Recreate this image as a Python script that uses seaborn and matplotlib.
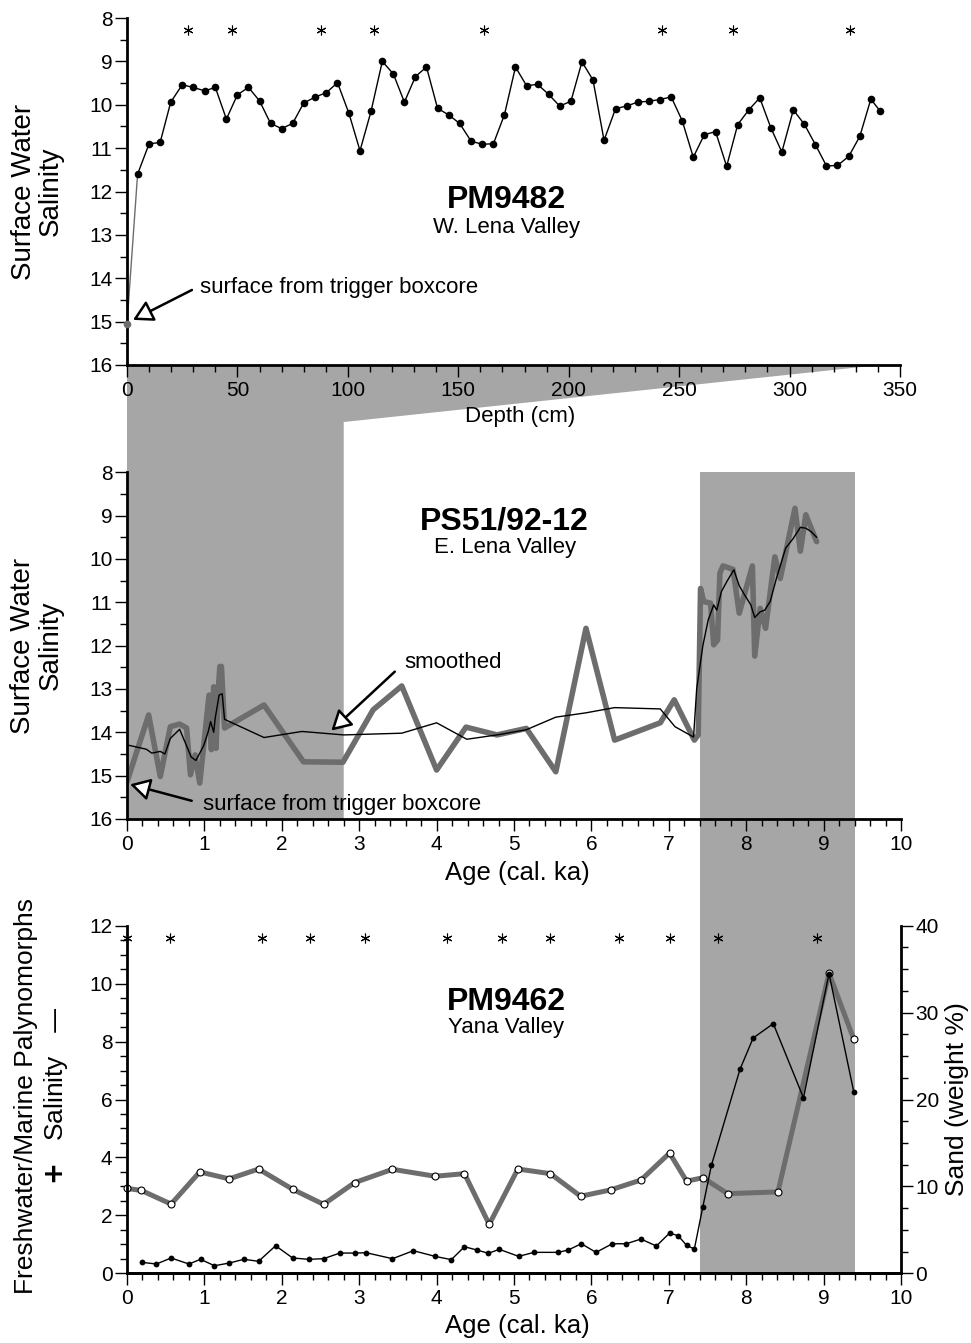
import numpy as np
import pandas as pd
import matplotlib
matplotlib.use("Agg")
import matplotlib.pyplot as plt
import seaborn as sns
from matplotlib.patches import Polygon, Rectangle
from matplotlib.ticker import MultipleLocator
from matplotlib.transforms import blended_transform_factory

# ---------------- data ----------------
# PM9482 (W. Lena Valley) surface water salinity vs depth
pm9482_depth = [4.8, 10, 15, 19.8, 25, 30, 35.2, 40, 45, 50, 55, 60, 65, 70, 75, 80, 85.3, 90.3,
                95.3, 100.5, 105.5, 110.5, 115.6, 120.6, 125.6, 130.6, 135.6, 140.6, 145.8, 150.6,
                155.8, 160.8, 165.9, 170.9, 175.9, 180.9, 185.9, 190.9, 195.9, 201, 206, 211, 216,
                221.2, 226.2, 231.2, 236.2, 241.2, 246.4, 251.4, 256.4, 261.4, 266.5, 271.5, 276.5,
                281.5, 286.5, 291.5, 296.5, 301.7, 306.7, 311.7, 316.7, 321.7, 326.8, 331.8, 336.8, 340.9]
pm9482_sal = [11.6, 10.9, 10.87, 9.94, 9.54, 9.6, 9.68, 9.6, 10.33, 9.77, 9.6, 9.91, 10.43, 10.55,
              10.43, 9.96, 9.82, 9.72, 9.49, 10.2, 11.06, 10.15, 9.0, 9.29, 9.94, 9.35, 9.13, 10.08,
              10.24, 10.43, 10.84, 10.91, 10.9, 10.23, 9.13, 9.56, 9.53, 9.76, 10.03, 9.92, 9.01,
              9.43, 10.82, 10.09, 10.03, 9.94, 9.92, 9.88, 9.82, 10.37, 11.21, 10.69, 10.62, 11.42,
              10.46, 10.12, 9.84, 10.53, 11.09, 10.12, 10.45, 10.92, 11.41, 11.40, 11.19, 10.73,
              9.87, 10.14]
pm9482_surface_depth = [0.0]
pm9482_surface_sal = [15.05]
pm9482_dated_depth = [27.7, 47.6, 88, 111.7, 161.8, 242.4, 274.5, 327.4]

# PS51/92-12 (E. Lena Valley) salinity vs age
ps51_age = [0.00, 0.28, 0.43, 0.56, 0.68, 0.77, 0.82, 0.88, 0.94, 1.06, 1.09, 1.12, 1.15, 1.18,
            1.20, 1.22, 1.26, 1.77, 2.28, 2.79, 3.18, 3.55, 4.00, 4.38, 4.78, 5.16, 5.54, 5.93,
            6.30, 6.89, 7.07, 7.33, 7.38, 7.41, 7.45, 7.54, 7.58, 7.63, 7.66, 7.70, 7.83, 7.91,
            8.08, 8.11, 8.18, 8.25, 8.37, 8.44, 8.63, 8.70, 8.77, 8.91]
ps51_sal = [15.14, 13.60, 15.02, 13.87, 13.81, 13.90, 14.98, 14.52, 15.17, 13.14, 14.40, 12.95,
            14.37, 13.00, 12.48, 12.48, 13.90, 13.37, 14.68, 14.69, 13.48, 12.93, 14.87, 13.88,
            14.06, 13.91, 14.91, 11.60, 14.18, 13.78, 13.25, 14.18, 14.06, 10.68, 10.98, 11.02,
            11.98, 11.87, 10.33, 10.16, 10.24, 11.25, 10.16, 12.24, 11.14, 11.60, 9.95, 10.45,
            8.83, 9.82, 8.98, 9.60]
ps51_smooth_age = [0.00, 0.25, 0.32, 0.43, 0.49, 0.56, 0.68, 0.83, 0.89, 0.99, 1.05, 1.08, 1.12,
                   1.14, 1.19, 1.23, 1.26, 1.77, 2.26, 2.80, 3.55, 4.00, 4.39, 4.78, 5.16, 5.54,
                   5.93, 6.30, 6.89, 7.08, 7.32, 7.36, 7.44, 7.51, 7.58, 7.62, 7.68, 7.75, 7.84,
                   7.91, 7.98, 8.06, 8.11, 8.18, 8.24, 8.31, 8.39, 8.51, 8.61, 8.70, 8.77, 8.84, 8.91]
ps51_smooth_sal = [14.29, 14.39, 14.48, 14.44, 14.50, 14.14, 13.93, 14.57, 14.65, 14.31, 13.98,
                   13.75, 14.00, 13.67, 13.14, 13.11, 13.70, 14.12, 13.98, 14.06, 14.02, 13.78,
                   14.16, 14.06, 13.94, 13.65, 13.55, 13.43, 13.46, 13.87, 14.11, 13.00, 12.00,
                   11.40, 11.06, 11.18, 10.75, 10.52, 10.25, 10.62, 10.83, 11.06, 11.35, 11.22,
                   11.18, 10.98, 10.45, 9.75, 9.52, 9.27, 9.29, 9.37, 9.50]

# PM9462 (Yana Valley)
pm9462_age = [0, 0.185, 0.57, 0.94, 1.32, 1.70, 2.14, 2.54, 2.94, 3.43, 3.98, 4.36, 4.68, 5.05,
              5.47, 5.86, 6.25, 6.64, 7.01, 7.23, 7.44, 7.76, 8.41, 9.07, 9.39]
pm9462_ratio = [2.93, 2.86, 2.39, 3.50, 3.26, 3.60, 2.90, 2.38, 3.13, 3.59, 3.35, 3.44, 1.69, 3.60,
                3.44, 2.66, 2.88, 3.22, 4.15, 3.18, 3.30, 2.75, 2.81, 10.36, 8.08]
sand_age = [0.19, 0.38, 0.57, 0.80, 0.95, 1.13, 1.32, 1.51, 1.70, 1.92, 2.14, 2.35, 2.54, 2.75,
            2.94, 3.09, 3.43, 3.70, 3.98, 4.19, 4.36, 4.52, 4.67, 4.81, 5.06, 5.26, 5.57, 5.70,
            5.87, 6.06, 6.27, 6.45, 6.64, 6.84, 7.01, 7.12, 7.23, 7.33, 7.44, 7.55, 7.92, 8.09,
            8.35, 8.74, 9.07, 9.39]
sand_pct = [1.26, 1.07, 1.76, 1.07, 1.61, 0.87, 1.18, 1.61, 1.38, 3.17, 1.76, 1.61, 1.68, 2.33,
            2.33, 2.37, 1.68, 2.60, 1.95, 1.57, 3.06, 2.68, 2.30, 2.76, 1.95, 2.41, 2.41, 2.68,
            3.40, 2.41, 3.40, 3.40, 3.94, 3.14, 4.63, 4.33, 3.22, 2.79, 7.66, 12.41, 23.48, 27.08,
            28.73, 20.19, 34.48, 20.87]
pm9462_dated_age = [0, 0.55, 1.74, 2.37, 3.08, 4.14, 4.85, 5.47, 6.36, 7.02, 7.64, 8.92]

# shaded intervals
band1_depth = (0, 341)     # PM9482 core length
band1_age = (0, 2.8)       # corresponding age
band2_age = (7.4, 9.4)

# ---------------- style ----------------
sns.set_theme(style="ticks", rc={
    "axes.edgecolor": "black", "xtick.color": "black", "ytick.color": "black",
    "text.color": "black", "axes.labelcolor": "black"})
plt.rcParams["font.family"] = ["Liberation Sans", "DejaVu Sans"]

SHADE = "#a6a6a6"
GRAY = "#6d6d6d"
W, H = 971, 1343
fig = plt.figure(figsize=(W / 100, H / 100), dpi=100)


def px_axes(l, t, r, b):
    return fig.add_axes([l / W, 1 - b / H, (r - l) / W, (b - t) / H])


ax1 = px_axes(127, 18, 900, 365)
ax2 = px_axes(127, 472.3, 901, 819)
ax3 = px_axes(127, 925.7, 901, 1273.3)


def style(ax, right=False):
    ax.patch.set_visible(False)
    for s in ["top", "right", "left", "bottom"]:
        ax.spines[s].set_visible(False)
    show = ["right", "bottom"] if right else ["left", "bottom"]
    for s in show:
        ax.spines[s].set_visible(True)
        ax.spines[s].set_linewidth(2.0)
        ax.spines[s].set_color("black")
    ax.tick_params(which="major", length=8.5, width=1.0, labelsize=15, direction="out", pad=2)
    ax.tick_params(which="minor", length=5, width=1.0, direction="out")


for a in (ax1, ax2, ax3):
    style(a)

ast_kw = dict(ls="none", marker=(6, 2, 0), ms=7, mew=0.8, color="black", clip_on=False)

# ---- top panel ----
ax1.set_xlim(0, 350)
ax1.set_ylim(16, 8)
ax1.xaxis.set_major_locator(MultipleLocator(50))
ax1.xaxis.set_minor_locator(MultipleLocator(10))
ax1.yaxis.set_major_locator(MultipleLocator(1))
ax1.yaxis.set_minor_locator(MultipleLocator(0.5))
ax1.tick_params(axis="x", pad=3)

ax1.plot([pm9482_surface_depth[0], pm9482_depth[0]], [pm9482_surface_sal[0], pm9482_sal[0]],
         color=GRAY, lw=1.0, clip_on=False)
sns.lineplot(x=pm9482_depth, y=pm9482_sal, ax=ax1, color="black", lw=1.0, marker="o",
             markersize=5.5, markeredgewidth=0, estimator=None, sort=False, clip_on=False)
ax1.plot(pm9482_surface_depth, pm9482_surface_sal, ls="none", marker="o", ms=5.5, mew=0,
         color=GRAY, clip_on=False, zorder=5)
ax1.plot(pm9482_dated_depth, [8.28] * len(pm9482_dated_depth), **ast_kw)

ax1.text(171.8, 12.38, "PM9482", ha="center", va="baseline", fontsize=23, fontweight="bold")
ax1.text(171.8, 12.95, "W. Lena Valley", ha="center", va="baseline", fontsize=16)
ax1.text(33.2, 14.22, "surface from trigger boxcore", ha="left", va="center", fontsize=16)
arrow_kw = dict(arrowstyle="-|>,head_length=0.8,head_width=0.45", fc="white", ec="black",
                lw=1.8, mutation_scale=15, shrinkA=0, shrinkB=0)
ax1.annotate("", xy=(2.7, 14.96), xytext=(29.4, 14.27), arrowprops=arrow_kw)

ax1.set_xlabel("Depth (cm)", fontsize=16, va="center")
ax1.xaxis.set_label_coords(0.508, -0.147)
ax1.set_ylabel("Surface Water\nSalinity", fontsize=20, va="center", ha="center", linespacing=1.05)
ax1.yaxis.set_label_coords(-0.1164, 0.5)

# ---- middle panel ----
ax2.set_xlim(0, 10)
ax2.set_ylim(16, 8)
ax2.xaxis.set_major_locator(MultipleLocator(1))
ax2.xaxis.set_minor_locator(MultipleLocator(0.2))
ax2.yaxis.set_major_locator(MultipleLocator(1))
ax2.yaxis.set_minor_locator(MultipleLocator(0.5))
ax2.tick_params(axis="x", pad=3)

sns.lineplot(x=ps51_age, y=ps51_sal, ax=ax2, color=GRAY, lw=4.0, estimator=None, sort=False)
sns.lineplot(x=ps51_smooth_age, y=ps51_smooth_sal, ax=ax2, color="black", lw=1.0,
             estimator=None, sort=False)

ax2.text(4.88, 9.33, "PS51/92-12", ha="center", va="baseline", fontsize=23, fontweight="bold")
ax2.text(4.88, 9.86, "E. Lena Valley", ha="center", va="baseline", fontsize=16)
ax2.text(0.98, 15.67, "surface from trigger boxcore", ha="left", va="center", fontsize=16)
ax2.annotate("", xy=(0.04, 15.2), xytext=(0.836, 15.58), arrowprops=arrow_kw)
ax2.text(3.58, 12.38, "smoothed", ha="left", va="center", fontsize=16)
ax2.annotate("", xy=(2.64, 13.96), xytext=(3.46, 12.6), arrowprops=arrow_kw)

ax2.set_xlabel("Age (cal. ka)", fontsize=18.5, va="center")
ax2.xaxis.set_label_coords(0.5045, -0.156)
ax2.set_ylabel("Surface Water\nSalinity", fontsize=20, va="center", ha="center", linespacing=1.05)
ax2.yaxis.set_label_coords(-0.1164, 0.5)

# ---- bottom panel ----
ax3.set_xlim(0, 10)
ax3.set_ylim(0, 12)
ax3.xaxis.set_major_locator(MultipleLocator(1))
ax3.xaxis.set_minor_locator(MultipleLocator(0.2))
ax3.yaxis.set_major_locator(MultipleLocator(2))
ax3.yaxis.set_minor_locator(MultipleLocator(0.5))
ax3.tick_params(axis="x", pad=3)

ax3r = ax3.twinx()
style(ax3r, right=True)
ax3r.set_ylim(0, 40)
ax3r.yaxis.set_major_locator(MultipleLocator(10))
ax3r.yaxis.set_minor_locator(MultipleLocator(2.5))

sns.lineplot(x=pm9462_age, y=pm9462_ratio, ax=ax3, color=GRAY, lw=3.6, marker="o",
             markersize=5, markerfacecolor="white", markeredgecolor="black",
             markeredgewidth=0.8, estimator=None, sort=False, clip_on=False)
sns.lineplot(x=sand_age, y=sand_pct, ax=ax3r, color="black", lw=1.0, marker="o",
             markersize=4.2, markeredgewidth=0, estimator=None, sort=False, clip_on=False)
ax3.plot(pm9462_dated_age, [11.56] * len(pm9462_dated_age), **ast_kw)

ax3.text(4.9, 9.09, "PM9462", ha="center", va="baseline", fontsize=23, fontweight="bold")
ax3.text(4.9, 8.28, "Yana Valley", ha="center", va="baseline", fontsize=16)

ax3.set_xlabel("Age (cal. ka)", fontsize=18.5, va="center")
ax3.xaxis.set_label_coords(0.5045, -0.152)
ax3.set_ylabel("Freshwater/Marine Palynomorphs\n$\\mathbf{+}$   Salinity   \u2014", fontsize=19,
               va="center", ha="center", linespacing=1.2)
ax3.yaxis.set_label_coords(-0.11, 0.51)
ax3r.set_ylabel("Sand (weight %)", fontsize=19, va="center", ha="center", rotation=90)
ax3r.yaxis.set_label_coords(1.072, 0.5)

# ---------------- shaded connectors ----------------
inv = fig.transFigure.inverted()


def fpt(ax, x, y, trans=None):
    t = trans if trans is not None else ax.transData
    return inv.transform(t.transform((x, y)))


blend2 = blended_transform_factory(ax2.transData, ax2.transAxes)
poly1 = Polygon([fpt(ax1, band1_depth[0], 16), fpt(ax1, band1_depth[1], 16),
                 fpt(ax2, band1_age[1], 1.145, blend2), fpt(ax2, band1_age[1], 16),
                 fpt(ax2, band1_age[0], 16)],
                closed=True, transform=fig.transFigure, facecolor=SHADE, edgecolor="none",
                zorder=-10)
fig.add_artist(poly1)

p_bl = fpt(ax3, band2_age[0], 0)
p_tr = fpt(ax2, band2_age[1], 8)
rect = Rectangle(p_bl, p_tr[0] - p_bl[0], p_tr[1] - p_bl[1], transform=fig.transFigure,
                 facecolor=SHADE, edgecolor="none", zorder=-10)
fig.add_artist(rect)

fig.savefig("out.png", dpi=100)
